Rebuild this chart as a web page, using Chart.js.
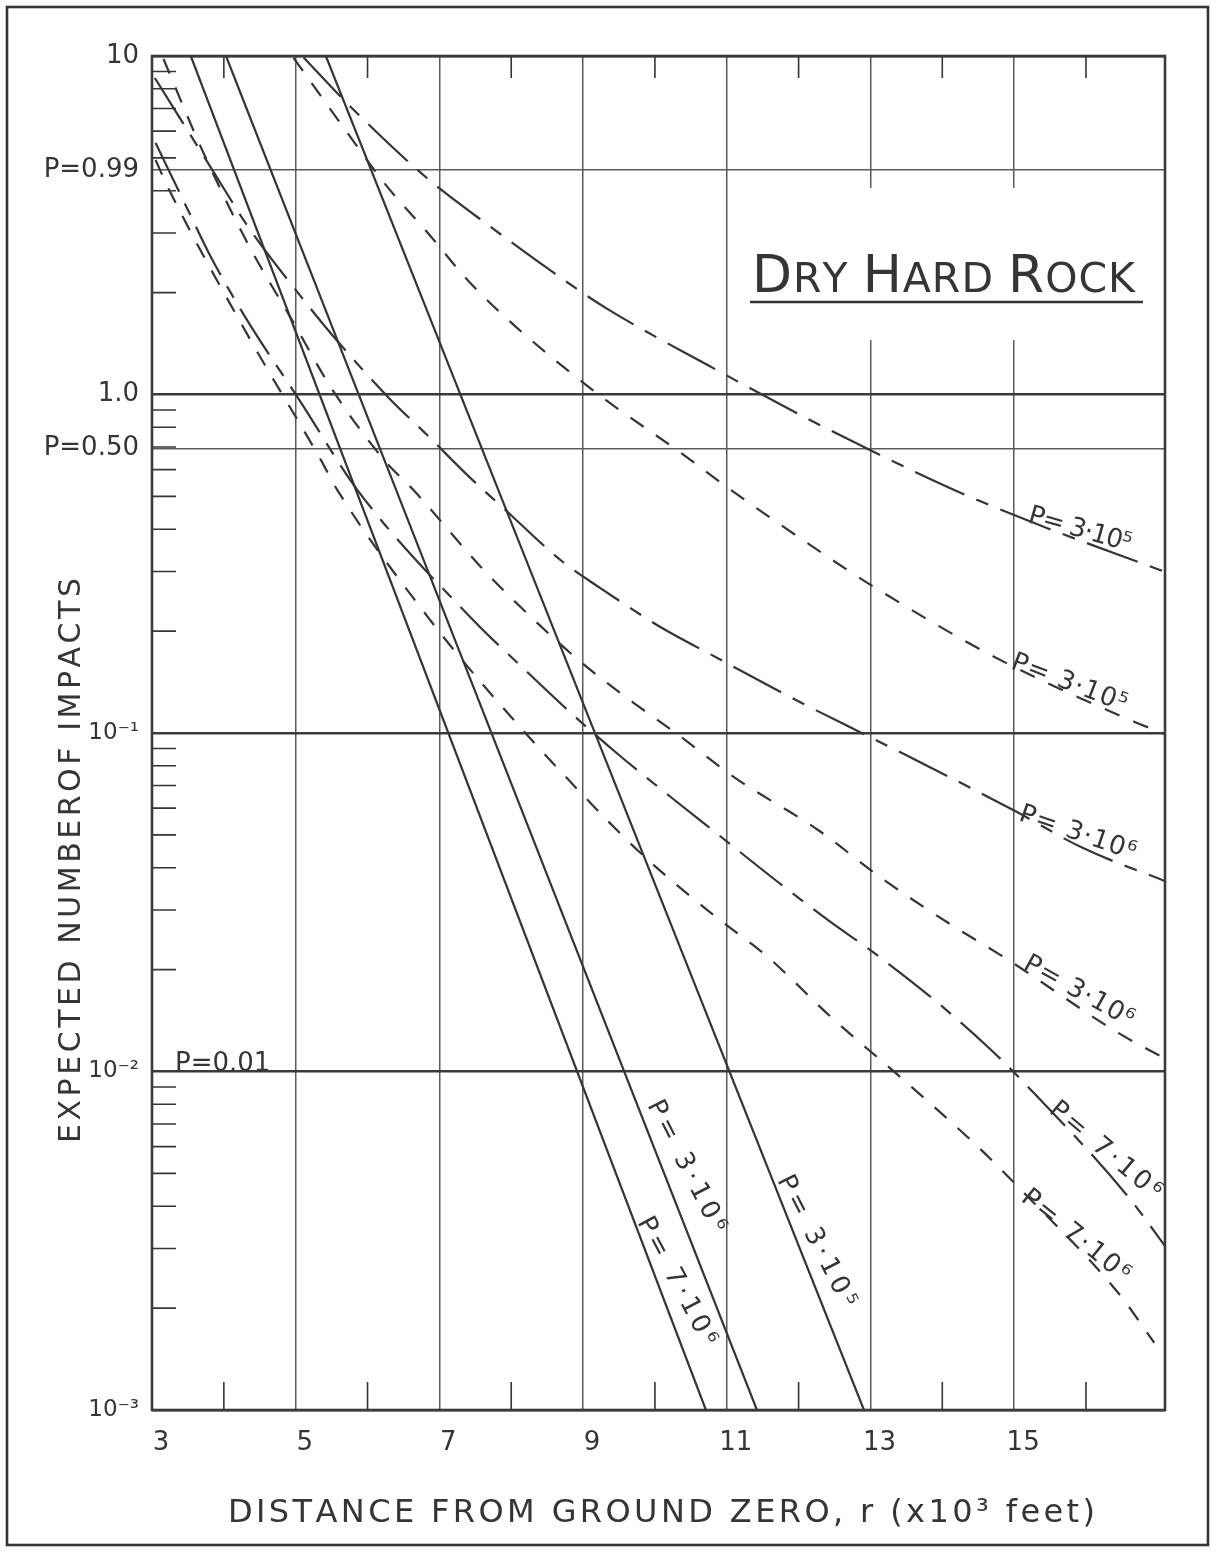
<!DOCTYPE html>
<html><head><meta charset="utf-8">
<script src="https://cdn.jsdelivr.net/npm/chart.js@4/dist/chart.umd.min.js"></script>
<style>html,body{margin:0;padding:0;background:#fff;overflow:hidden}canvas{display:block}</style>
</head><body>
<canvas id="c" width="1219" height="1552"></canvas>
<script>
// ---------- data ----------
const xTickValues = [3,4,5,6,7,8,9,10,11,12,13,14,15,16];
const xLabelValues = [3,5,7,9,11,13,15];
const xGridValues = [5,7,9,11,13,15];
const xMinorTicks = [4,6,8,10,12,14,16];

const yGridValues = [0.001, 0.01, 0.1, 0.6931, 1, 4.605, 10];
const yTickLabels = ['10⁻³','10⁻²','10⁻¹','P=0.50','1.0','P=0.99','10'];
const yDecades = [0.001, 0.01, 0.1, 1, 10];

// solid lines (straight on semi-log paper)
const solidA_x = [3.54, 10.71];   const solidA_y = [10, 0.001];   // P = 7·10^6
const solidB_x = [4.03, 11.42];   const solidB_y = [10, 0.001];   // P = 3·10^6
const solidC_x = [5.42, 12.91];   const solidC_y = [10, 0.001];   // P = 3·10^5

// long-dash curves
const d1_x = [5.11, 5.77, 6.81, 7.72, 8.59, 9.32, 10.74, 12.08, 13.05, 14.26, 15.28, 17.14];
const d1_y = [9.9, 7.06, 4.39, 3.12, 2.29, 1.80, 1.22, 0.858, 0.676, 0.512, 0.417, 0.297];   // P = 3·10^5
const d3_x = [3.04, 3.85, 4.36, 5.10, 5.52, 6.31, 6.83, 7.43, 7.89, 8.72, 9.24, 10.10, 10.74, 11.88, 12.99, 13.55, 15.04, 15.96, 17.13];
const d3_y = [8.61, 4.57, 3.08, 1.915, 1.489, 0.970, 0.759, 0.567, 0.462, 0.320, 0.268, 0.2042, 0.1723, 0.1278, 0.0973, 0.0849, 0.0584, 0.0457, 0.0363]; // P = 3·10^6
const d5_x = [3.05, 3.50, 3.79, 4.30, 5.07, 5.86, 7.51, 8.09, 8.83, 9.50, 10.22, 10.85, 11.80, 12.41, 13.05, 13.94, 14.68, 15.10, 16.59, 17.14];
const d5_y = [5.53, 3.51, 2.62, 1.69, 0.950, 0.522, 0.2113, 0.161, 0.1146, 0.0861, 0.0647, 0.0507, 0.0351, 0.028, 0.0224, 0.01594, 0.01158, 0.00944, 0.00426, 0.00297]; // P = 7·10^6

// short-dash curves
const d2_x = [4.97, 5.77, 6.23, 6.84, 7.48, 9.01, 10.40, 11.06, 12.31, 13.05, 14.72, 16.67, 17.14];
const d2_y = [9.87, 5.73, 4.22, 3.00, 2.08, 1.08, 0.663, 0.522, 0.342, 0.270, 0.168, 0.108, 0.0986]; // P = 3·10^5
const d4_x = [3.16, 3.68, 4.33, 4.97, 5.49, 6.23, 6.64, 7.58, 8.13, 8.97, 9.80, 10.29, 11.10, 12.27, 13.19, 14.08, 14.92, 16.45, 17.14];
const d4_y = [9.8, 5.38, 2.80, 1.63, 1.05, 0.641, 0.522, 0.309, 0.2356, 0.162, 0.1186, 0.1, 0.0741, 0.0517, 0.0368, 0.0275, 0.02135, 0.0130, 0.0108]; // P = 3·10^6
const d6_x = [3.05, 3.22, 4.37, 5.35, 5.58, 6.84, 7.67, 8.93, 9.80, 10.78, 11.57, 12.45, 13.43, 14.50, 15.07, 16.45, 16.95];
const d6_y = [4.93, 4.10, 1.45, 0.641, 0.522, 0.220, 0.134, 0.0679, 0.0442, 0.0294, 0.0218, 0.01449, 0.00957, 0.00598, 0.00453, 0.002216, 0.00158]; // P = 7·10^6

// curve labels: text, anchor (data), rotation
const curveLabelText = ['P= 3·10⁵','P= 3·10⁵','P= 3·10⁶','P= 3·10⁶','P= 7·10⁶','P= 7·10⁶','P= 3·10⁶','P= 7·10⁶','P= 3·10⁵'];
const curveLabelX = [15.18, 14.94, 15.05, 15.11, 15.47, 15.08, 9.89, 9.75, 11.70];
const curveLabelY = [0.42, 0.1556, 0.0553, 0.0202, 0.0076, 0.00417, 0.00796, 0.00359, 0.00478];
const curveLabelRot = [16, 21, 19, 29, 40, 39, 63, 62, 63];
const curveLabelLen = [106, 122, 122, 122, 138, 132, 145, 142, 145];

const chartTitle = 'DRY HARD ROCK';
const xTitle = 'DISTANCE FROM GROUND ZERO, r (x10³ feet)';
const yTitle = 'EXPECTED NUMBEROF IMPACTS';
const innerLabel = 'P=0.01';

// ---------- styling ----------
const INK = '#353535';
const FONT = '"DejaVu Sans", sans-serif';
const LONG_DASH = [54, 13, 13, 13];
const SHORT_DASH = [16, 15];

function pts(xs, ys){ return xs.map((x,i)=>({x:x, y:ys[i]})); }
function ds(label, xs, ys, dash){
  return { label, data: pts(xs, ys), showLine: true, pointRadius: 0, borderColor: INK,
           borderWidth: 2.2, borderDash: dash, cubicInterpolationMode: 'monotone', fill: false };
}
const datasets = [
  ds('P=7·10^6 (solid)', solidA_x, solidA_y, []),
  ds('P=3·10^6 (solid)', solidB_x, solidB_y, []),
  ds('P=3·10^5 (solid)', solidC_x, solidC_y, []),
  ds('P=3·10^5 (long dash)', d1_x, d1_y, LONG_DASH),
  ds('P=3·10^5 (short dash)', d2_x, d2_y, SHORT_DASH),
  ds('P=3·10^6 (long dash)', d3_x, d3_y, LONG_DASH),
  ds('P=3·10^6 (short dash)', d4_x, d4_y, SHORT_DASH),
  ds('P=7·10^6 (long dash)', d5_x, d5_y, LONG_DASH),
  ds('P=7·10^6 (short dash)', d6_x, d6_y, SHORT_DASH)
];

function isDecade(v){ return yDecades.some(d => Math.abs(v-d)/d < 1e-6); }
function yLabelFor(v){
  const i = yGridValues.findIndex(g => Math.abs(v-g)/g < 1e-6);
  return i >= 0 ? yTickLabels[i] : '';
}

function spacedText(ctx, text, x, y, target){
  const chars = [...text];
  const w = chars.map(c => ctx.measureText(c).width);
  const total = w.reduce((a,b)=>a+b, 0);
  const extra = chars.length > 1 ? (target - total)/(chars.length-1) : 0;
  let cx = x;
  chars.forEach((c,i)=>{ ctx.fillText(c, cx, y); cx += w[i] + extra; });
}

const decor = {
  id: 'decor',
  beforeDraw(chart){
    const ctx = chart.ctx;
    ctx.save(); ctx.fillStyle = '#fff'; ctx.fillRect(0,0,chart.width,chart.height); ctx.restore();
  },
  beforeDatasetsDraw(chart){
    const ctx = chart.ctx, a = chart.chartArea, xs = chart.scales.x, ys = chart.scales.y;
    ctx.save();
    // blank box behind the title
    ctx.fillStyle = '#fff';
    ctx.fillRect(740, 188, 418, 152);
    ctx.strokeStyle = INK; ctx.lineWidth = 1.6;
    // inward minor ticks on the left axis
    ctx.beginPath();
    for (let e = -3; e < 1; e++){
      for (let m = 2; m <= 9; m++){
        const py = ys.getPixelForValue(m*Math.pow(10,e));
        ctx.moveTo(a.left, py); ctx.lineTo(a.left + 24, py);
      }
    }
    // inward ticks on top and bottom at even distances
    xMinorTicks.forEach(v => {
      const px = xs.getPixelForValue(v);
      ctx.moveTo(px, a.top); ctx.lineTo(px, a.top + 22);
      ctx.moveTo(px, a.bottom); ctx.lineTo(px, a.bottom - 28);
    });
    ctx.stroke();
    // plot frame
    ctx.lineWidth = 2.6; ctx.strokeStyle = '#3a3a3a';
    ctx.strokeRect(a.left, a.top, a.right - a.left, a.bottom - a.top);
    ctx.restore();
  },
  afterDraw(chart){
    const ctx = chart.ctx, xs = chart.scales.x, ys = chart.scales.y;
    ctx.save();
    ctx.fillStyle = INK; ctx.strokeStyle = INK;
    // outer frame
    ctx.lineWidth = 2.6;
    ctx.strokeRect(7, 7, 1201, 1538);
    // title with small caps
    const parts = [['D',1],['RY',0],[' ',0],['H',1],['ARD',0],[' ',0],['R',1],['OCK',0]];
    const chars = [];
    parts.forEach(([s,b]) => { for (const ch of s) chars.push({ch, f: (b ? '52px ' : '41px ') + FONT}); });
    let total = 0;
    chars.forEach(c => { ctx.font = c.f; c.w = ctx.measureText(c.ch).width; total += c.w; });
    const extra = (383 - total)/(chars.length - 1);
    let tx = 752;
    chars.forEach(c => { ctx.font = c.f; ctx.fillText(c.ch, tx, 292); tx += c.w + extra; });
    ctx.lineWidth = 2.6;
    ctx.beginPath(); ctx.moveTo(750, 302); ctx.lineTo(1143, 302); ctx.stroke();

    // P=0.01 inside plot
    ctx.font = '26px ' + FONT;
    ctx.fillText(innerLabel, 175, 1071);

    // curve labels
    ctx.font = '26px ' + FONT;
    curveLabelText.forEach((t,i) => {
      const px = xs.getPixelForValue(curveLabelX[i]);
      const py = ys.getPixelForValue(curveLabelY[i]);
      ctx.save(); ctx.translate(px, py); ctx.rotate(curveLabelRot[i]*Math.PI/180);
      spacedText(ctx, t, 0, 0, curveLabelLen[i]); ctx.restore();
    });

    // axis titles
    ctx.font = '32px ' + FONT;
    spacedText(ctx, xTitle, 228, 1522, 867);
    ctx.font = '30px ' + FONT;
    ctx.save(); ctx.translate(80, 1143); ctx.rotate(-Math.PI/2);
    spacedText(ctx, yTitle, 0, 0, 565);
    ctx.restore();
    ctx.restore();
  }
};

new Chart(document.getElementById('c'), {
  type: 'scatter',
  data: { datasets },
  options: {
    responsive: false, devicePixelRatio: 1, animation: false,
    layout: { padding: { left: 0, right: 54, top: 56, bottom: 82 } },
    plugins: { legend: { display: false }, tooltip: { enabled: false }, title: { display: false } },
    scales: {
      x: {
        type: 'linear', min: 3, max: 17.1,
        afterBuildTicks: s => { s.ticks = xTickValues.map(v => ({value: v})); },
        afterFit: s => { s.height = 60; },
        border: { display: false },
        grid: {
          drawTicks: false,
          color: c => (c.tick && xGridValues.includes(c.tick.value)) ? '#5a5a5a' : 'rgba(0,0,0,0)',
          lineWidth: 1.5
        },
        ticks: {
          autoSkip: false, maxRotation: 0, padding: 18, labelOffset: 9, color: INK,
          font: { family: 'DejaVu Sans', size: 26 },
          callback: v => xLabelValues.includes(v) ? String(v) : ''
        }
      },
      y: {
        type: 'logarithmic', min: 0.001, max: 10,
        afterBuildTicks: s => { s.ticks = yGridValues.map(v => ({value: v})); },
        afterFit: s => { s.width = 152; },
        border: { display: false },
        grid: {
          drawTicks: false,
          color: c => (c.tick && isDecade(c.tick.value)) ? '#3a3a3a' : '#5a5a5a',
          lineWidth: c => (c.tick && isDecade(c.tick.value)) ? 2.6 : 1.4
        },
        ticks: {
          autoSkip: false, padding: 13, color: INK,
          font: c => ({ family: 'DejaVu Sans',
                        size: (c.tick && c.tick.value < 0.5) ? 23 : 26 }),
          callback: v => yLabelFor(v)
        }
      }
    }
  },
  plugins: [decor]
});
</script>
</body></html>
